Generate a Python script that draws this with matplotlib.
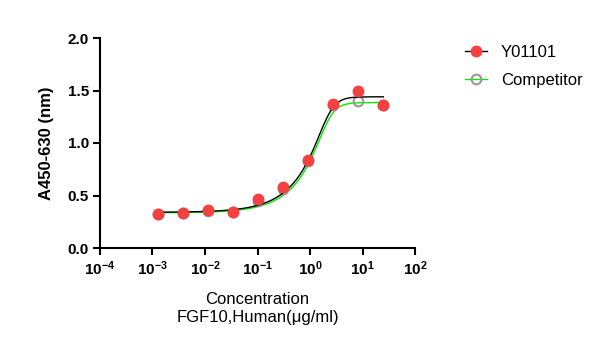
import numpy as np
import matplotlib.pyplot as plt
from matplotlib.ticker import FixedLocator, NullLocator

plt.rcParams['font.family'] = ['Liberation Sans', 'DejaVu Sans']
plt.rcParams['mathtext.fontset'] = 'custom'
plt.rcParams['mathtext.rm'] = 'Liberation Sans'
plt.rcParams['mathtext.bf'] = 'Liberation Sans:bold'

conc = [25 / 3 ** i for i in range(9, -1, -1)]
y01101 = [0.32, 0.33, 0.36, 0.34, 0.47, 0.58, 0.84, 1.37, 1.50, 1.36]
competitor = [0.32, 0.33, 0.35, 0.34, 0.45, 0.56, 0.83, 1.36, 1.40, 1.36]

# asymmetric 5PL fit parameters (bottom, top, c, hill, s)
fit_y01101 = (0.34, 1.44, 2.19, 3.5, 0.26)
fit_comp = (0.335, 1.385, 2.2, 3.6, 0.26)

xticks = [1e-4, 1e-3, 1e-2, 1e-1, 1e0, 1e1, 1e2]
xtick_labels = ['$\\mathbf{10^{-4}}$', '$\\mathbf{10^{-3}}$', '$\\mathbf{10^{-2}}$',
                '$\\mathbf{10^{-1}}$', '$\\mathbf{10^{0}}$', '$\\mathbf{10^{1}}$',
                '$\\mathbf{10^{2}}$']
yticks = [0.0, 0.5, 1.0, 1.5, 2.0]


def five_pl(x, bottom, top, c, hill, s):
    return bottom + (top - bottom) / (1 + (c / x) ** hill) ** s


fig = plt.figure(figsize=(6.09, 3.39), dpi=100)
ax = fig.add_axes([100 / 609, 1 - 248 / 339, 315 / 609, 210 / 339])

xs = np.logspace(np.log10(conc[0]), np.log10(conc[-1]), 300)
ax.plot(xs, five_pl(xs, *fit_comp), color='#00ee00', lw=1.0, zorder=2)
ax.plot(conc, competitor, 'o', ms=7, mfc='none', mec='#999999', mew=1.5, zorder=3)
ax.plot(xs, five_pl(xs, *fit_y01101), color='black', lw=1.0, zorder=4)
ax.plot(conc, y01101, 'o', ms=7.5, color='#f44040', mec='#f44040', zorder=5)

ax.set_xscale('log')
ax.set_xlim(1e-4, 1e2)
ax.set_ylim(0, 2.0)
ax.xaxis.set_major_locator(FixedLocator(xticks))
ax.xaxis.set_minor_locator(NullLocator())
ax.set_xticklabels(xtick_labels)
ax.set_yticks(yticks)
ax.set_yticklabels([f'{v:.1f}' for v in yticks], fontweight='bold')

for s in ['top', 'right']:
    ax.spines[s].set_visible(False)
for s in ['left', 'bottom']:
    ax.spines[s].set_linewidth(1.5)
ax.tick_params(width=1.5, length=5, labelsize=11, pad=3)

ax.set_ylabel('A450-630 (nm)', fontsize=12, fontweight='bold', labelpad=10)
ax.set_xlabel('Concentration\nFGF10,Human(μg/ml)', fontsize=12,
              linespacing=1.25, labelpad=10)

h1, = ax.plot([], [], '-o', color='black', mfc='#f44040', mec='#f44040', ms=7.5, lw=1.0)
h2, = ax.plot([], [], '-o', color='#00ee00', mfc='none', mec='#999999', ms=7, mew=1.5, lw=1.0)
fig.legend([h1, h2], ['Y01101', 'Competitor'], loc='upper left',
           bbox_to_anchor=(450 / 609, 1 - 30 / 339), frameon=False,
           fontsize=12, handlelength=1.3, handletextpad=0.85, labelspacing=0.75)

fig.savefig('out.png', dpi=100)
